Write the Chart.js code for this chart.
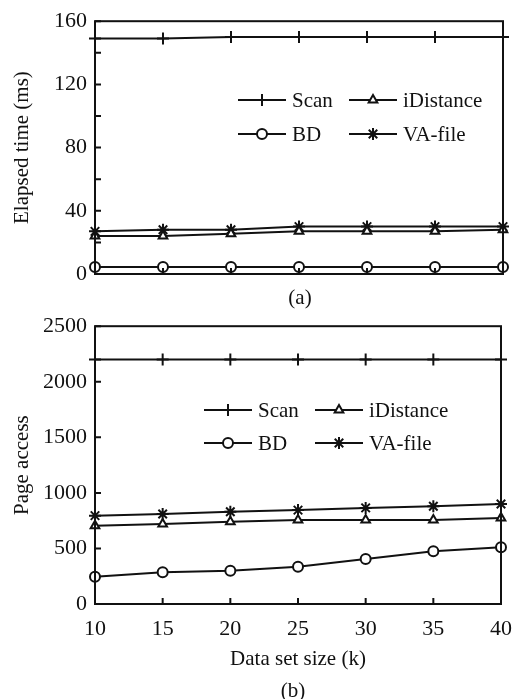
<!DOCTYPE html>
<html>
<head>
<meta charset="utf-8">
<script src="https://cdn.jsdelivr.net/npm/chart.js@4.4.1/dist/chart.umd.min.js"></script>
<style>
html, body { margin: 0; padding: 0; background: #fff; }
#wrap { position: relative; width: 512px; height: 699px; overflow: hidden; }
.box { position: absolute; left: 0; width: 512px; }
.cap { position: absolute; width: 60px; text-align: center; font: 21px "Liberation Serif", serif; line-height: 24px; color: #111; }
</style>
</head>
<body>
<div id="wrap">
  <div class="box" style="top:0;height:305px"><canvas id="timeChart"></canvas></div>
  <div class="cap" style="left:270px;top:285px">(a)</div>
  <div class="box" style="top:305px;height:394px"><canvas id="pageChart"></canvas></div>
  <div class="cap" style="left:263px;top:678px">(b)</div>
</div>
<script>
// data set sizes (k)
const sizes = [10, 15, 20, 25, 30, 35, 40];
const seriesNames = ['Scan', 'iDistance', 'BD', 'VA-file'];

// (a) elapsed time (ms)
const timeScan = [149, 149, 150, 150, 150, 150, 150];
const timeIDistance = [24, 24, 25.5, 27, 27, 27, 28];
const timeBD = [4.5, 4.5, 4.5, 4.5, 4.5, 4.5, 4.5];
const timeVA = [27, 28, 28, 30, 30, 30, 30];

// (b) page access
const pageScan = [2200, 2200, 2200, 2200, 2200, 2200, 2200];
const pageIDistance = [705, 720, 740, 755, 755, 755, 775];
const pageBD = [245, 285, 300, 335, 405, 475, 510];
const pageVA = [795, 810, 830, 845, 865, 880, 900];

// tick values
const timeTicks = [0, 40, 80, 120, 160];
const timeMinorTicks = [20, 60, 100, 140];
const pageTicks = [0, 500, 1000, 1500, 2000, 2500];

const FONT = '"Liberation Serif", serif';
const INK = '#111';

const markerStyles = [
    { pointStyle: 'cross', radius: 6, fill: INK },
    { pointStyle: 'triangle', radius: 5, fill: '#fff' },
    { pointStyle: 'circle', radius: 5, fill: '#fff' },
    { pointStyle: 'star', radius: 6, fill: INK }
];

function makeDatasets(lists) {
    return lists.map((vals, i) => ({
        label: seriesNames[i],
        data: vals.map((v, j) => ({ x: sizes[j], y: v })),
        borderColor: INK,
        borderWidth: 2,
        backgroundColor: markerStyles[i].fill,
        pointStyle: markerStyles[i].pointStyle,
        pointRadius: markerStyles[i].radius,
        pointBorderWidth: 2,
        pointBackgroundColor: markerStyles[i].fill,
        pointBorderColor: INK,
        tension: 0,
        clip: false
    }));
}

// frame box plus inward tick marks
const framePlugin = {
    id: 'frame',
    afterDraw(chart, args, opts) {
        const { ctx, chartArea: a } = chart;
        const ys = chart.scales.y, xs = chart.scales.x;
        ctx.save();
        ctx.strokeStyle = INK;
        ctx.lineWidth = 2;
        ctx.strokeRect(a.left, a.top, a.right - a.left, a.bottom - a.top);
        ctx.beginPath();
        (opts.yTicks || []).concat(opts.yMinor || []).forEach(v => {
            const py = ys.getPixelForValue(v);
            ctx.moveTo(a.left, py);
            ctx.lineTo(a.left + 6, py);
        });
        sizes.forEach(v => {
            const px = xs.getPixelForValue(v);
            ctx.moveTo(px, a.bottom);
            ctx.lineTo(px, a.bottom - 6);
        });
        ctx.stroke();
        ctx.restore();
    }
};

// legend drawn inside the plot, 2 x 2
const innerLegend = {
    id: 'innerLegend',
    afterDraw(chart, args, opts) {
        const ctx = chart.ctx;
        ctx.save();
        chart.data.datasets.forEach((ds, i) => {
            const p = opts.items[i];
            ctx.strokeStyle = INK;
            ctx.lineWidth = 2;
            ctx.beginPath();
            ctx.moveTo(p.x, p.y);
            ctx.lineTo(p.x + 48, p.y);
            ctx.stroke();
            ctx.fillStyle = ds.pointBackgroundColor;
            Chart.helpers.drawPoint(ctx, {
                pointStyle: ds.pointStyle,
                radius: ds.pointRadius,
                rotation: 0,
                borderWidth: 2
            }, p.x + 24, p.y);
            ctx.fillStyle = INK;
            ctx.font = '21px ' + FONT;
            ctx.textBaseline = 'middle';
            ctx.fillText(ds.label, p.x + 54, p.y + 1);
        });
        ctx.restore();
    }
};

function makeChart(id, datasets, yMax, yStep, yTicks, yMinor, yTitle, showX, legendItems, padding, xHeight) {
    const ctx = document.getElementById(id).getContext('2d');
    return new Chart(ctx, {
        type: 'line',
        data: { datasets: datasets },
        plugins: [framePlugin, innerLegend],
        options: {
            responsive: true,
            maintainAspectRatio: false,
            animation: false,
            layout: { padding: padding },
            plugins: {
                legend: { display: false },
                tooltip: { enabled: false },
                frame: { yTicks: yTicks, yMinor: yMinor },
                innerLegend: { items: legendItems }
            },
            scales: {
                x: {
                    type: 'linear',
                    min: 10,
                    max: 40,
                    grid: { display: false, drawTicks: true, tickLength: 12 },
                    border: { display: false },
                    ticks: {
                        display: showX,
                        stepSize: 5,
                        color: INK,
                        padding: 0,
                        font: { family: FONT, size: 22 }
                    },
                    title: {
                        display: showX,
                        text: 'Data set size (k)',
                        color: INK,
                        padding: { top: 2, bottom: 0 },
                        font: { family: FONT, size: 21 }
                    },
                    afterFit(scale) { scale.height = xHeight; }
                },
                y: {
                    min: 0,
                    max: yMax,
                    grid: { display: false, drawTicks: false },
                    border: { display: false },
                    ticks: {
                        stepSize: yStep,
                        color: INK,
                        padding: 8,
                        font: { family: FONT, size: 22 },
                        callback: v => String(v)
                    },
                    title: {
                        display: true,
                        text: yTitle,
                        color: INK,
                        padding: { top: 0, bottom: 0 },
                        font: { family: FONT, size: 21 }
                    },
                    afterFit(scale) { scale.width = 85; }
                }
            }
        }
    });
}

makeChart('timeChart',
    makeDatasets([timeScan, timeIDistance, timeBD, timeVA]),
    160, 40, timeTicks, timeMinorTicks, 'Elapsed time (ms)', false,
    [{ x: 238, y: 100 }, { x: 349, y: 100 }, { x: 238, y: 134 }, { x: 349, y: 134 }],
    { left: 10, right: 9, top: 20, bottom: 0 }, 31);

makeChart('pageChart',
    makeDatasets([pageScan, pageIDistance, pageBD, pageVA]),
    2500, 500, pageTicks, [], 'Page access', true,
    [{ x: 204, y: 105 }, { x: 315, y: 105 }, { x: 204, y: 138 }, { x: 315, y: 138 }],
    { left: 10, right: 0, top: 16, bottom: 27 }, 68);
</script>
</body>
</html>
